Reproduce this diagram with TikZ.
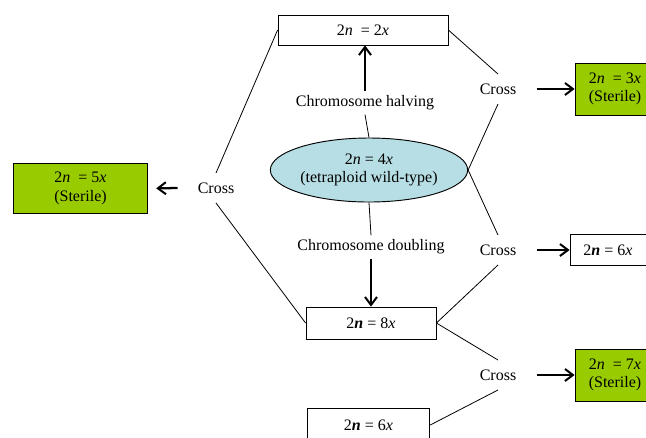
\documentclass[tikz,border=0pt]{standalone}
\usepackage{fontspec}
\setmainfont{Liberation Serif}
\usepackage{xcolor}
\usetikzlibrary{arrows.meta,calc,positioning,shapes.geometric}

\definecolor{sterilegreen}{RGB}{153,204,0}
\definecolor{wildblue}{RGB}{183,222,228}

\tikzset{
  ploidy/.style={draw,line width=0.6pt,inner sep=2pt,align=center},
  sterile/.style={ploidy,fill=sterilegreen},
  cross/.style={inner xsep=15pt,inner ysep=7pt},
  stage/.style={inner sep=3pt},
  link/.style={line width=0.6pt},
  push/.style={line width=1.7pt,->}
}

\begin{document}
\begin{tikzpicture}[x=0.75pt,y=-0.75pt,>={Straight Barb[length=6pt,width=9pt,line width=1.5pt]},
    font=\fontsize{12}{14}\selectfont]
    \clip (0,0) rectangle (646,437);
    \useasboundingbox (0,0) rectangle (646,437);
    % centre: the wild type
    \node[ellipse,draw,line width=0.7pt,fill=wildblue,minimum width=148pt,minimum height=48pt,
      inner sep=0pt,align=center] (wild) at (369,170)
      {2\textit{n} = 4\textit{x}\\(tetraploid wild-type)};
    \node[stage] (halving) at (365,103) {Chromosome halving};
    \node[stage] (doubling) at (371,247) {Chromosome doubling};
    % polyploid series
    \node[ploidy,minimum width=127.5pt,minimum height=22.5pt] (dip) at (363,30)
      {2\textit{n}\ \ = 2\textit{x}};
    \node[ploidy,minimum width=97.5pt,minimum height=24pt] (oct) at (371,323)
      {2\textit{\textbf{n}} = 8\textit{x}};
    \node[ploidy,minimum width=92pt,minimum height=25.5pt] (hexlow) at (368.5,425)
      {2\textit{\textbf{n}} = 6\textit{x}};
    % crosses
    \node[cross] (crossL) at (216,188) {Cross};
    \node[cross] (crossA) at (498,89) {Cross};
    \node[cross] (crossB) at (498,250) {Cross};
    \node[cross] (crossC) at (498,375) {Cross};
    % offspring
    \node[sterile,minimum width=101pt,minimum height=38pt] (pent) at (80.5,188.5)
      {2\textit{n}\ \ = 5\textit{x}\\(Sterile)};
    \node[sterile,minimum width=60pt,minimum height=39pt] (trip) at (615,89)
      {2\textit{n}\ \ = 3\textit{x}\\(Sterile)};
    \node[ploidy,minimum width=57pt,minimum height=23pt] (hexR) at (608,250)
      {2\textit{\textbf{n}} = 6\textit{x}};
    \node[sterile,minimum width=60pt,minimum height=39pt] (hept) at (615,375)
      {2\textit{n}\ \ = 7\textit{x}\\(Sterile)};

    \draw[link] (wild.north) -- (halving.south);
    \draw[push] (halving.north) -- (halving.north |- dip.south);
    \draw[link] (wild.south) -- (doubling.north);
    \draw[push] (doubling.south) -- (doubling.south |- oct.north);

    \draw[link] (dip.west) -- (crossL.north);
    \draw[link] (oct.west) -- (crossL.south);
    \draw[link] (dip.east) -- (crossA.north);
    \draw[link] (wild.east) -- (crossA.south);
    \draw[link] (wild.east) -- (crossB.north);
    \draw[link] (oct.east) -- (crossB.south);
    \draw[link] (oct.east) -- (crossC.north);
    \draw[link] (hexlow.east) -- (crossC.south);

    \draw[push,shorten >=6pt] (crossL.west) -- (pent.east);
    \draw[push] (crossA.east) -- (trip.west);
    \draw[push] (crossB.east) -- (hexR.west);
    \draw[push] (crossC.east) -- (hept.west);
  \end{tikzpicture}
\end{document}
